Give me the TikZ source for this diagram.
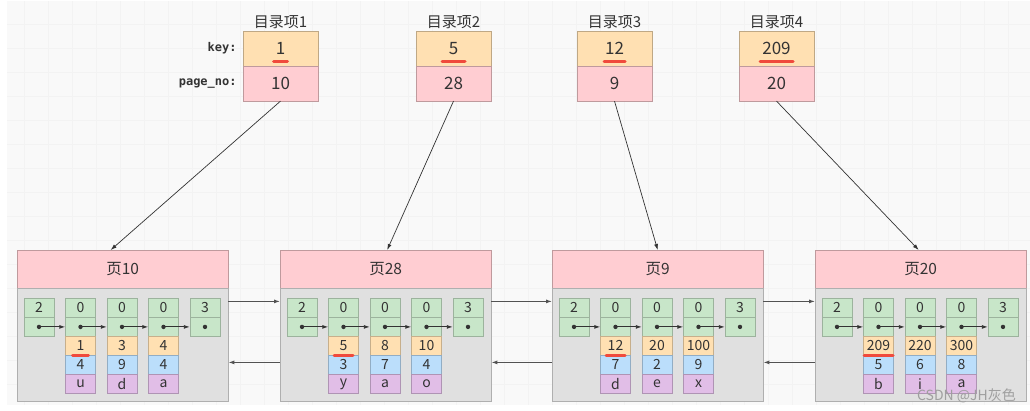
\documentclass[tikz,border=0pt]{standalone}
\usepackage{fontspec}
\setmainfont{Noto Sans CJK SC}
\newfontfamily\monofont{DejaVu Sans Mono}
\usepackage{tikz}
\usetikzlibrary{arrows.meta,calc,positioning}

\definecolor{ink}{HTML}{333333}
\definecolor{bgfill}{HTML}{F9F9F9}
\definecolor{gridcol}{HTML}{F3F3F3}
\definecolor{org}{HTML}{FFE0B2}
\definecolor{pnk}{HTML}{FFCDD2}
\definecolor{grn}{HTML}{C8E6C9}
\definecolor{blu}{HTML}{BBDEFB}
\definecolor{pur}{HTML}{E1BEE7}
\definecolor{bodyfill}{HTML}{E0E0E0}
\definecolor{redmark}{HTML}{F04A3C}

\tikzset{
  cell/.style={fill=#1, draw=#1!78!black, minimum width=30pt, minimum height=18.6pt,
    inner sep=0pt, text=ink, font=\fontsize{14}{14}\selectfont},
  keybox/.style={fill=org, draw=org!75!black, minimum width=75pt, minimum height=35pt,
    inner sep=0pt, text=ink, font=\fontsize{17}{18}\selectfont},
  pnobox/.style={keybox, fill=pnk, draw=pnk!75!black, minimum height=34.5pt},
  title/.style={inner sep=1pt, text=ink, font=\fontsize{15}{16}\selectfont},
  lbl/.style={inner sep=0pt, text=ink, font=\monofont\bfseries\fontsize{12}{12}\selectfont},
  headbox/.style={fill=pnk, draw=pnk!75!black, minimum width=211pt, minimum height=38pt,
    inner sep=0pt, text=ink, font=\fontsize{15.5}{16}\selectfont},
  bodybox/.style={fill=bodyfill, draw=bodyfill!78!black, minimum width=211pt, minimum height=113pt, inner sep=0pt},
  ptr/.style={draw=ink, line width=0.9pt, -{Latex[length=6pt,width=4pt]}},
  link/.style={draw=ink!85, line width=1pt, -{Latex[length=6pt,width=4pt]}},
  keymark/.style={draw=redmark, line width=3pt, line cap=round},
  wm/.style={inner sep=0pt, text=gray!75, font=\fontsize{14}{14}\selectfont}
}

\begin{document}
\begin{tikzpicture}[x=1pt,y=-1pt]
\useasboundingbox (0,0) rectangle (1030,410);
\fill[bgfill] (7,1) rectangle (1030,405);
\draw[gridcol, step=24pt] (7,1) grid (1030,405);

% directory entries
\foreach \i/\x/\k/\n in {1/280.5/1/10, 2/453.5/5/28, 3/614.5/12/9, 4/776.5/209/20}{
  \node[keybox] (k\i) at (\x,48.5) {\k};
  \node[pnobox, below=0pt of k\i] (n\i) {\n};
  \node[title, above=1pt of k\i] (t\i) {目录项\i};
}
\node[lbl, left=6pt of k1] (keylbl) {key:};
\node[lbl, left=6pt of n1] (pnolbl) {page\_no:};

% pages with the two fixed records and the user records
\foreach \i/\x/\n in {1/17/10, 2/280/28, 3/552/9, 4/815/20}{
  \node[headbox, anchor=north west] (h\i) at (\x,250) {页\n};
  \node[bodybox, below=0pt of h\i] (b\i) {};
  \foreach \j/\v in {1/2, 2/0, 3/0, 4/0, 5/3}{
    \node[cell=grn, anchor=north] (c\i-\j) at ($(b\i.north west)+(22+41.5*\j-41.5,10)$) {\v};
    \node[cell=grn, below=0pt of c\i-\j] (d\i-\j) {};
  }
}
\foreach \i/\j/\k/\v/\c in {1/2/1/4/u, 1/3/3/9/d, 1/4/4/4/a,
                            2/2/5/3/y, 2/3/8/7/a, 2/4/10/4/o,
                            3/2/12/7/d, 3/3/20/2/e, 3/4/100/9/x,
                            4/2/209/5/b, 4/3/220/6/i, 4/4/300/8/a}{
  \node[cell=org, below=0pt of d\i-\j] (e\i-\j) {\k};
  \node[cell=blu, below=0pt of e\i-\j] (f\i-\j) {\v};
  \node[cell=pur, below=0pt of f\i-\j] (g\i-\j) {\c};
}

% next_record pointers
\foreach \i in {1,...,4}{
  \foreach \j [count=\nj from 2] in {1,...,4}{
    \draw[ptr] (d\i-\j.center) -- (d\i-\nj.west);
  }
  \foreach \j in {1,...,5}{
    \fill[ink] (d\i-\j.center) circle (2.2pt);
  }
}

% links between pages
\foreach \i/\j in {1/2, 2/3, 3/4}{
  \draw[link] ($(b\i.north east)+(0,13)$) -- ($(b\j.north west)+(0,13)$);
  \draw[link] ($(b\j.north west)+(0,74)$) -- ($(b\i.north east)+(0,74)$);
}

% directory entry -> page
\foreach \i/\s in {1/-12, 2/1.5, 3/0, 4/-2}{
  \draw[ptr, line width=0.7pt] (n\i.south) -- ($(h\i.north)+(\s,0)$);
}

% red marks under the keys
\foreach \i/\w in {1/14, 2/23, 3/21, 4/33}{
  \draw[keymark] ($(k\i.center)+(-\w/2,13)$) -- ++(\w,0);
}
\foreach \i/\w in {1/16, 2/19, 3/19, 4/29}{
  \draw[keymark] ($(e\i-2.center)+(-\w/2,9.5)$) -- ++(\w,0);
}

\node[wm, anchor=east] (wm) at (1016,396) {CSDN @JH灰色};
\end{tikzpicture}
\end{document}
